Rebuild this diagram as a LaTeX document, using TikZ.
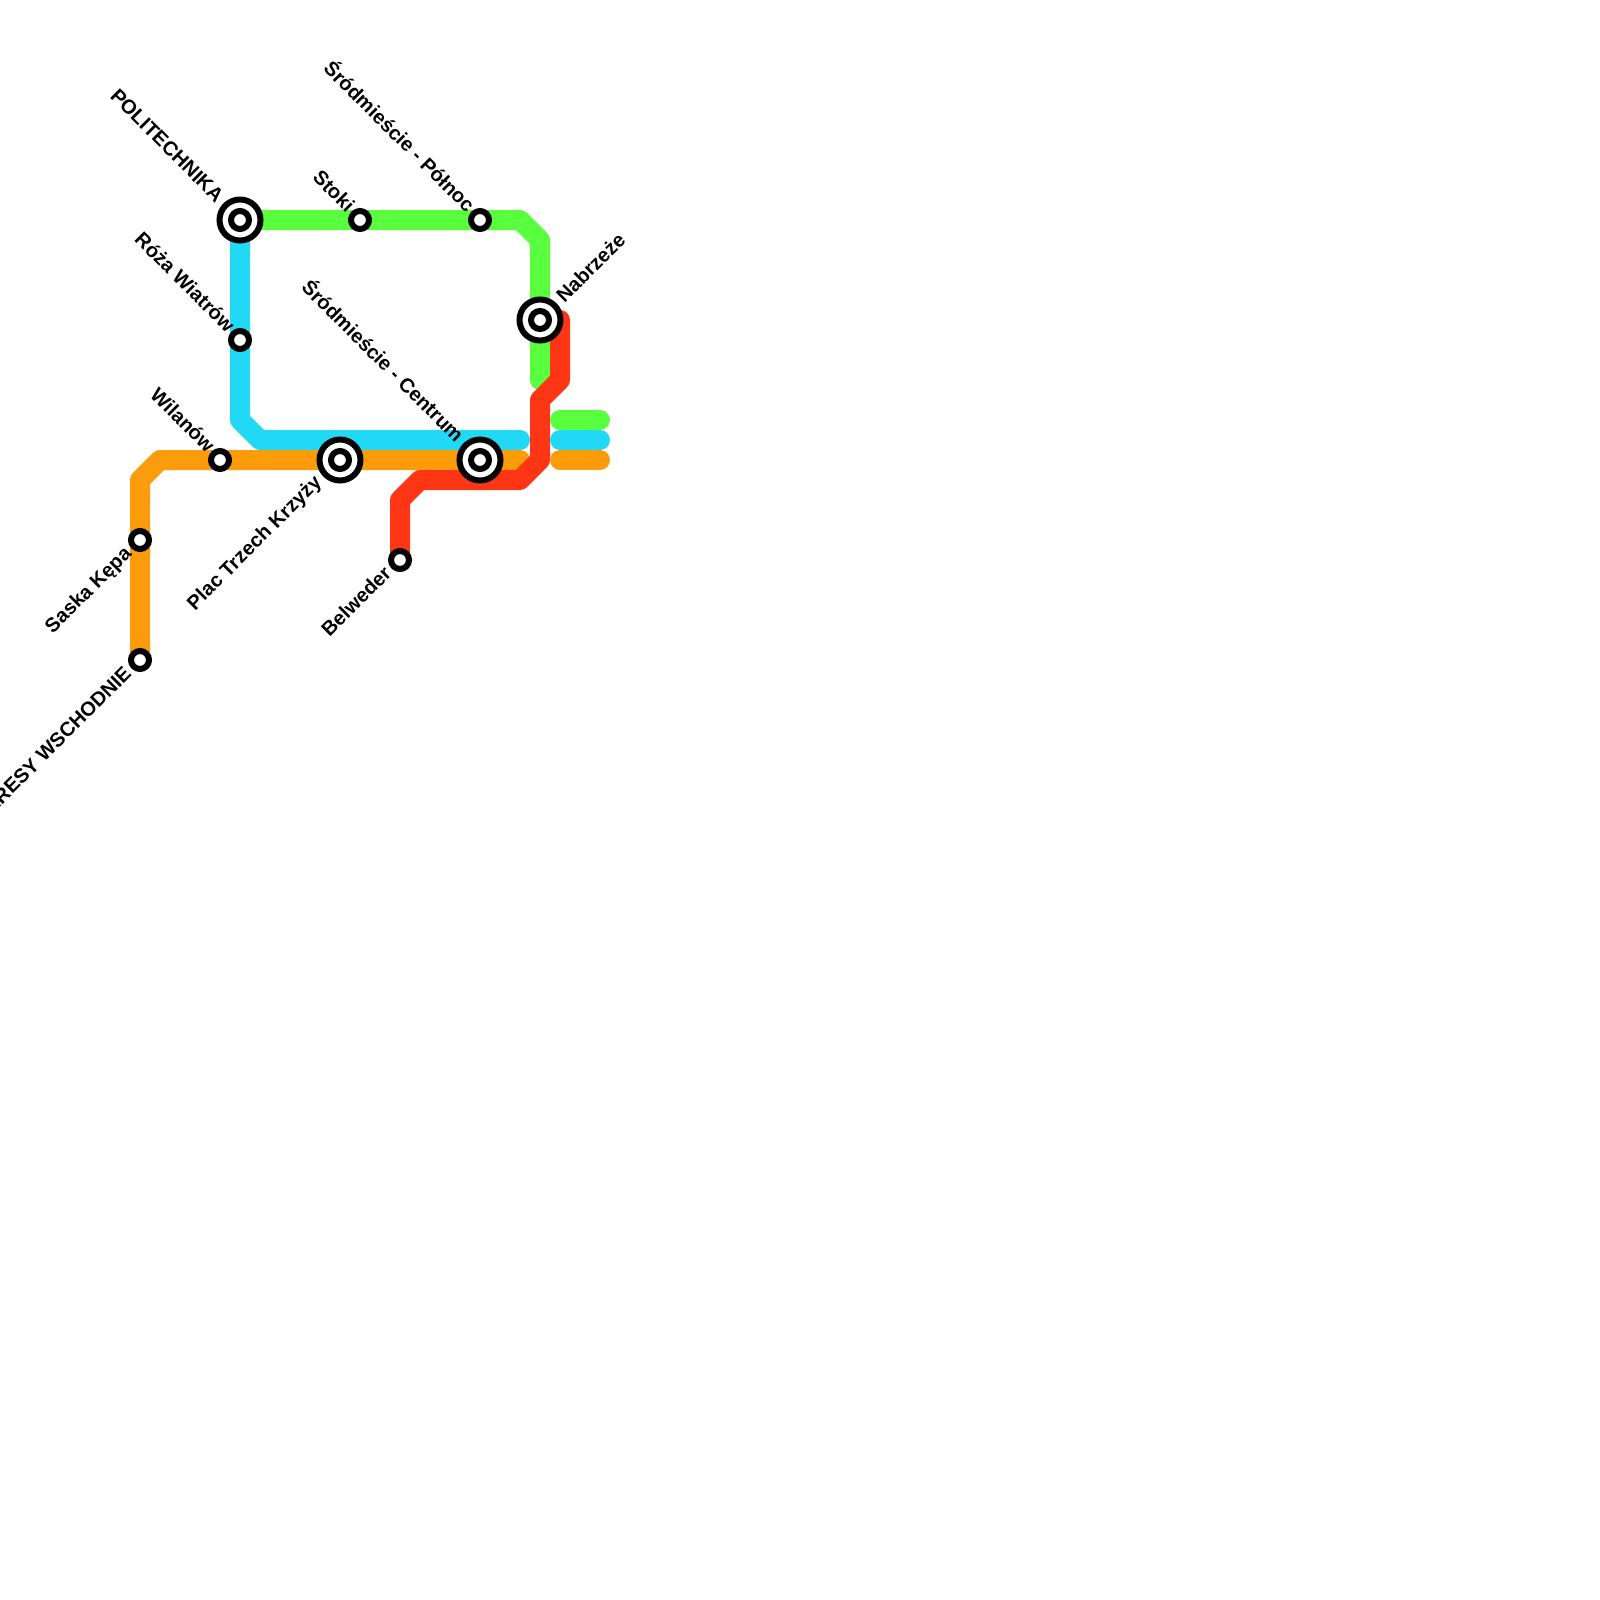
\documentclass[tikz,border=0pt]{standalone}
\usepackage{fontspec}
\setmainfont{Liberation Sans}
\usetikzlibrary{calc}
\definecolor{greenline}{HTML}{59FF3F}
\definecolor{blueline}{HTML}{22D9F5}
\definecolor{orangeline}{HTML}{FC9C0A}
\definecolor{redline}{HTML}{FF3616}
\tikzset{
    metro/.style={line width=20pt, line cap=round, line join=round},
    stop/.style={draw=black, fill=white, circle, line width=6pt, inner sep=0pt, minimum size=18pt},
    hub/.style={draw=black, fill=white, circle, line width=6pt, inner sep=0pt, minimum size=41pt},
    tag/.style={inner sep=0pt, font=\fontsize{20}{20}\selectfont\bfseries, text height=14.5pt, text depth=4.5pt},
    tagnw/.style={tag, rotate=-45, anchor=east},
    tagsw/.style={tag, rotate=45, anchor=east},
    tagne/.style={tag, rotate=45, anchor=west}
}

\begin{document}
\begin{tikzpicture}[x=1pt, y=-1pt]
    \useasboundingbox (0,0) rectangle (1600,1600);

    \coordinate (politechnika) at (240,220);
    \coordinate (stoki) at (360,220);
    \coordinate (polnoc) at (480,220);
    \coordinate (nabrzeze) at (540,320);
    \coordinate (roza) at (240,340);
    \coordinate (wilanow) at (220,460);
    \coordinate (plac) at (340,460);
    \coordinate (centrum) at (480,460);
    \coordinate (saska) at (140,540);
    \coordinate (kresy) at (140,660);
    \coordinate (belweder) at (400,560);

    \draw[metro, greenline] (politechnika) -- (polnoc) -- (520,220) -- (540,240) -- (nabrzeze) -- (540,380);
    \draw[metro, blueline] (politechnika) -- (roza) -- (240,420) -- (260,440) -- (520,440);
    \draw[metro, orangeline] (kresy) -- (saska) -- (140,480) -- (160,460) -- (wilanow) -- (plac) -- (centrum) -- (520,460);
    \draw[metro, redline] (belweder) -- (400,500) -- (420,480) -- (520,480) -- (540,460) -- (540,400) -- (560,380) -- (560,320);

    % key at the right
    \coordinate (keygreen) at (560,420);
    \coordinate (keyblue) at (560,440);
    \coordinate (keyorange) at (560,460);
    \draw[metro, greenline] (keygreen) -- ++(40,0);
    \draw[metro, blueline] (keyblue) -- ++(40,0);
    \draw[metro, orangeline] (keyorange) -- ++(40,0);

    \node[hub] (politechnikaring) at (politechnika) {};
    \node[hub] (nabrzezering) at (nabrzeze) {};
    \node[hub] (placring) at (plac) {};
    \node[hub] (centrumring) at (centrum) {};
    \foreach \s in {politechnika, stoki, polnoc, nabrzeze, roza, wilanow, plac, centrum, saska, kresy, belweder}
        \node[stop] (\s stop) at (\s) {};

    \node[tagnw] (politechnikatag) at ($(politechnika)+(-21,-20)$) {POLITECHNIKA};
    \node[tagnw] (stokitag) at ($(stoki)+(-10,-10)$) {Stoki};
    \node[tagnw] (polnoctag) at ($(polnoc)+(-10,-10)$) {Śródmieście - Północ};
    \node[tagnw] (rozatag) at ($(roza)+(-10,-10)$) {Róża Wiatrów};
    \node[tagnw] (wilanowtag) at ($(wilanow)+(-10,-10)$) {Wilanów};
    \node[tagnw] (centrumtag) at ($(centrum)+(-21,-20)$) {Śródmieście - Centrum};
    \node[tagsw] (placpaltag) at ($(plac)+(-21,20)$) {Plac Trzech Krzyży};
    \node[tagsw] (saskatag) at ($(saska)+(-11,11)$) {Saska Kępa};
    \node[tagsw] (kresytag) at ($(kresy)+(-11,11)$) {KRESY WSCHODNIE};
    \node[tagsw] (belwedertag) at ($(belweder)+(-11,11)$) {Belweder};
    \node[tagne] (nabrzezetag) at ($(nabrzeze)+(21,-20)$) {Nabrzeże};
\end{tikzpicture}
\end{document}
